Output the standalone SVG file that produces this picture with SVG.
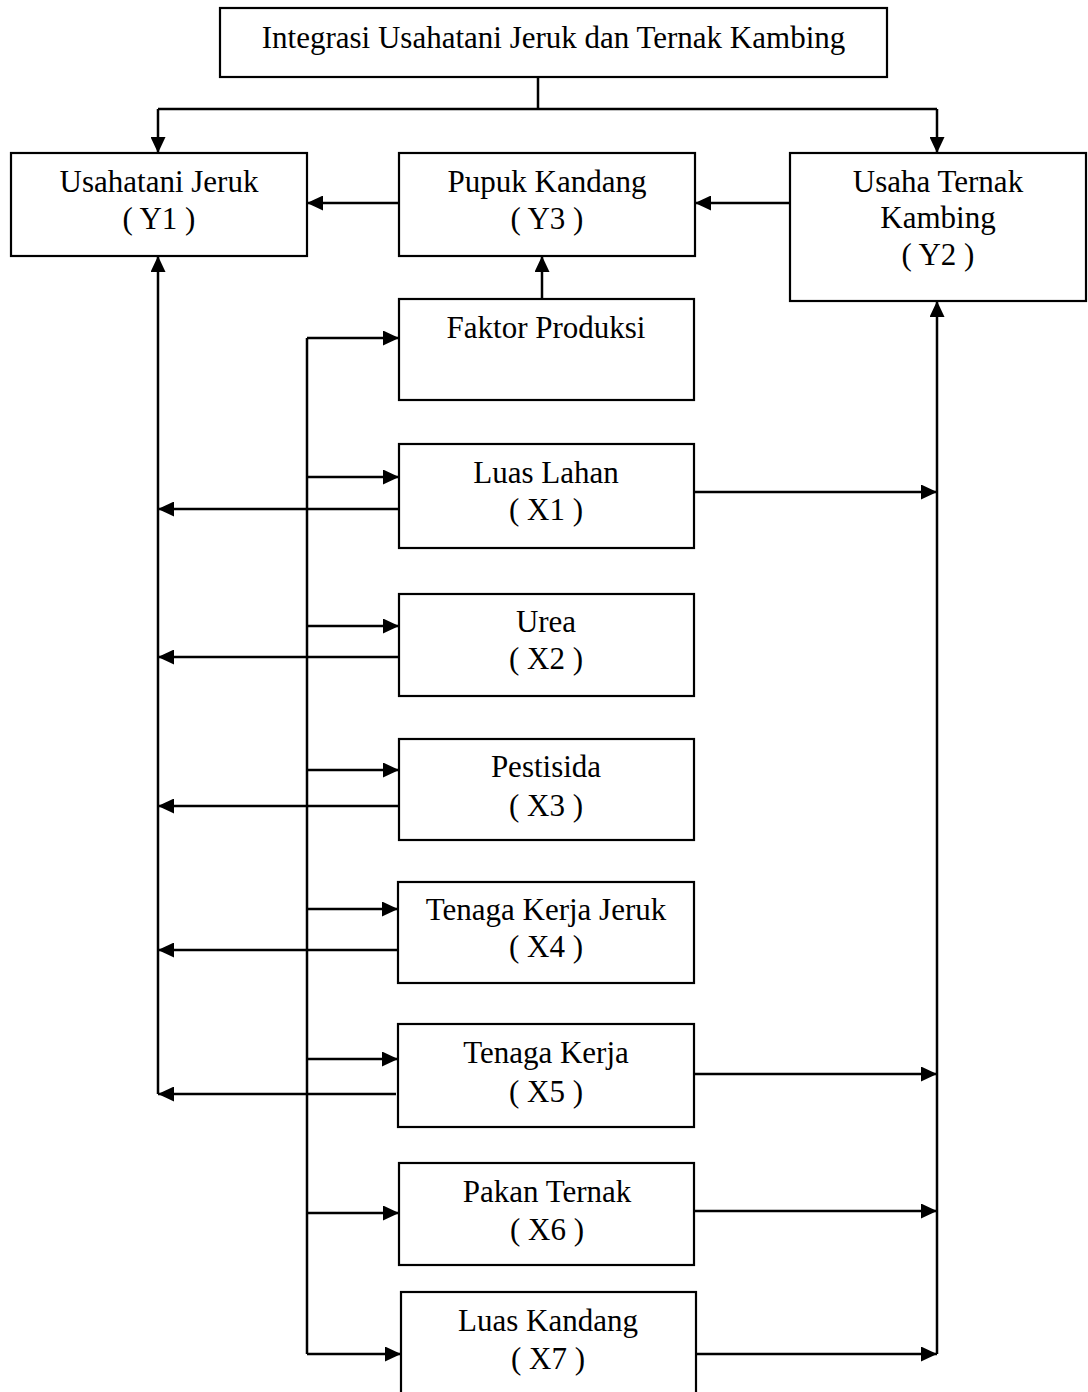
<svg xmlns="http://www.w3.org/2000/svg" width="1088" height="1392" viewBox="0 0 1088 1392">
  <style>
    .box { fill: #ffffff; stroke: #000000; stroke-width: 2.2; }
    .lbl { font-family: "Liberation Serif", "Times New Roman", serif; font-size: 31px; fill: #000000; text-anchor: middle; }
    .ln { fill: none; stroke: #000000; stroke-width: 2.5; }
    .arr { fill: none; stroke: #000000; stroke-width: 2.5; marker-end: url(#head); }
  </style>
  <defs>
    <marker id="head" markerUnits="userSpaceOnUse" markerWidth="16" markerHeight="15" refX="16" refY="7.5" orient="auto">
      <path d="M0,0 L16,7.5 L0,15 z" fill="#000000"/>
    </marker>
  </defs>
  <rect width="1088" height="1392" fill="#ffffff"/>

  <!-- connectors -->
  <g id="connectors">
    <!-- split from the top box -->
    <path class="ln" d="M538,77 V109 M158,109 H937"/>
    <path class="arr" d="M158,109 V153"/>
    <path class="arr" d="M937,109 V153"/>
    <!-- manure flows -->
    <path class="arr" d="M399,203 H307"/>
    <path class="arr" d="M790,203 H695"/>
    <path class="arr" d="M542,299 V256"/>
    <!-- collector into Y1 -->
    <path class="arr" d="M158,1094 V256"/>
    <!-- collector into Y2 -->
    <path class="arr" d="M937,1354 V301"/>
    <!-- production factor bus -->
    <path class="ln" d="M307,338 V1354"/>
    <path class="arr" d="M307,338 H399"/>
    <path class="arr" d="M307,477 H399"/>
    <path class="arr" d="M307,626 H399"/>
    <path class="arr" d="M307,770 H399"/>
    <path class="arr" d="M307,909 H398"/>
    <path class="arr" d="M307,1059 H398"/>
    <path class="arr" d="M307,1213 H399"/>
    <path class="arr" d="M307,1354 H401"/>
    <!-- inputs to citrus farming -->
    <path class="arr" d="M399,509 H158"/>
    <path class="arr" d="M399,657 H158"/>
    <path class="arr" d="M399,806 H158"/>
    <path class="arr" d="M398,950 H158"/>
    <path class="arr" d="M396,1094 H158"/>
    <!-- inputs to goat farming -->
    <path class="arr" d="M694,492 H937"/>
    <path class="arr" d="M694,1074 H937"/>
    <path class="arr" d="M694,1211 H937"/>
    <path class="arr" d="M696,1354 H937"/>
  </g>

  <g id="integrasi">
    <rect class="box" x="220" y="8" width="667" height="69"/>
    <text class="lbl" x="553.5" y="48">Integrasi Usahatani Jeruk dan Ternak Kambing</text>
  </g>
  <g id="y1">
    <rect class="box" x="11" y="153" width="296" height="103"/>
    <text class="lbl" x="159" y="192">Usahatani Jeruk</text>
    <text class="lbl" x="159" y="229">( Y1 )</text>
  </g>
  <g id="y3">
    <rect class="box" x="399" y="153" width="296" height="103"/>
    <text class="lbl" x="547" y="192">Pupuk Kandang</text>
    <text class="lbl" x="547" y="229">( Y3 )</text>
  </g>
  <g id="y2">
    <rect class="box" x="790" y="153" width="296" height="148"/>
    <text class="lbl" x="938" y="192">Usaha Ternak</text>
    <text class="lbl" x="938" y="228">Kambing</text>
    <text class="lbl" x="938" y="265">( Y2 )</text>
  </g>
  <g id="faktor">
    <rect class="box" x="399" y="299" width="295" height="101"/>
    <text class="lbl" x="546" y="338">Faktor Produksi</text>
  </g>
  <g id="x1">
    <rect class="box" x="399" y="444" width="295" height="104"/>
    <text class="lbl" x="546" y="483">Luas Lahan</text>
    <text class="lbl" x="546" y="520">( X1 )</text>
  </g>
  <g id="x2">
    <rect class="box" x="399" y="594" width="295" height="102"/>
    <text class="lbl" x="546" y="632">Urea</text>
    <text class="lbl" x="546" y="669">( X2 )</text>
  </g>
  <g id="x3">
    <rect class="box" x="399" y="739" width="295" height="101"/>
    <text class="lbl" x="546" y="777">Pestisida</text>
    <text class="lbl" x="546" y="816">( X3 )</text>
  </g>
  <g id="x4">
    <rect class="box" x="398" y="882" width="296" height="101"/>
    <text class="lbl" x="546" y="920">Tenaga Kerja Jeruk</text>
    <text class="lbl" x="546" y="957">( X4 )</text>
  </g>
  <g id="x5">
    <rect class="box" x="398" y="1024" width="296" height="103"/>
    <text class="lbl" x="546" y="1063">Tenaga Kerja</text>
    <text class="lbl" x="546" y="1102">( X5 )</text>
  </g>
  <g id="x6">
    <rect class="box" x="399" y="1163" width="295" height="102"/>
    <text class="lbl" x="547" y="1202">Pakan Ternak</text>
    <text class="lbl" x="547" y="1240">( X6 )</text>
  </g>
  <g id="x7">
    <rect class="box" x="401" y="1292" width="295" height="110"/>
    <text class="lbl" x="548" y="1331">Luas Kandang</text>
    <text class="lbl" x="548" y="1369">( X7 )</text>
  </g>
</svg>
